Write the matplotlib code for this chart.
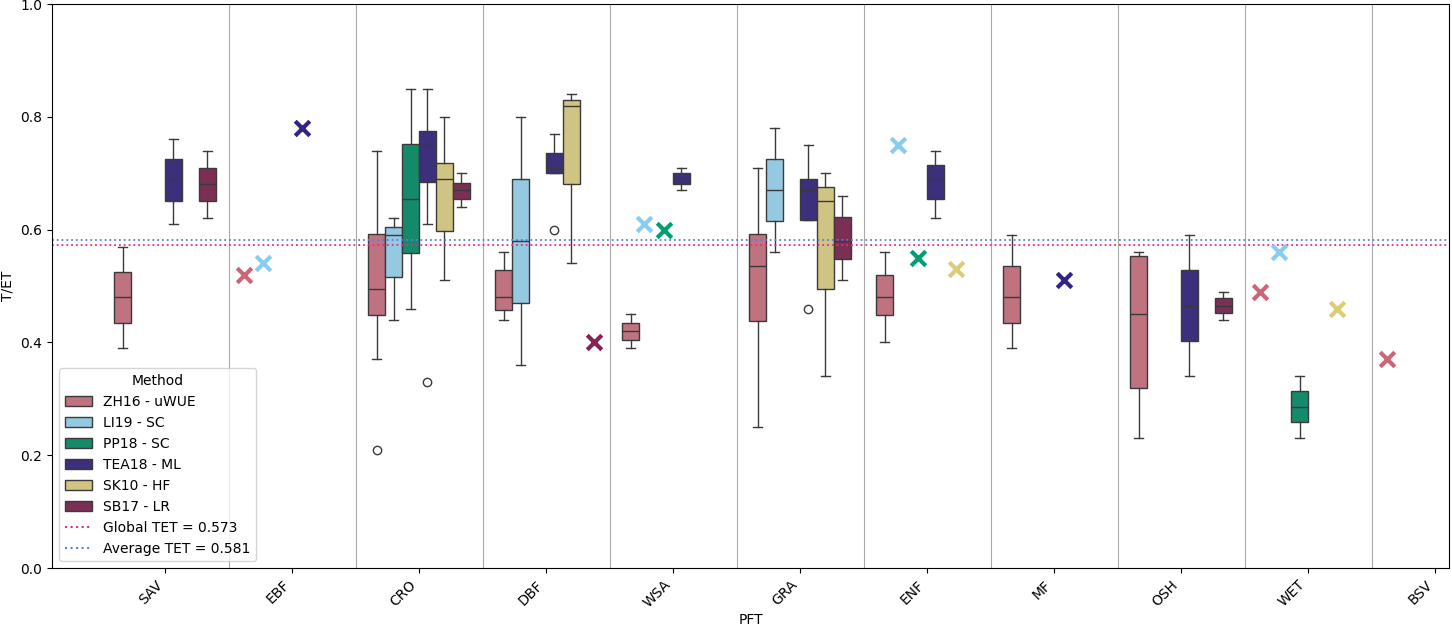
import matplotlib.pyplot as plt
import seaborn as sns
from matplotlib.lines import Line2D
from matplotlib.patches import Patch

pfts = ["SAV", "EBF", "CRO", "DBF", "WSA", "GRA", "ENF", "MF", "OSH", "WET", "BSV"]
methods = ["ZH16 - uWUE", "LI19 - SC", "PP18 - SC", "TEA18 - ML", "SK10 - HF", "SB17 - LR"]
colors = ["#CC6677", "#88CCEE", "#009E73", "#332288", "#DDCC77", "#882255"]

# box stats: (pft, method index, whislo, q1, med, q3, whishi, fliers)
box_stats = [
    ("SAV", 0, 0.39, 0.435, 0.48, 0.525, 0.57, []),
    ("SAV", 3, 0.61, 0.65, 0.69, 0.725, 0.76, []),
    ("SAV", 5, 0.62, 0.65, 0.68, 0.71, 0.74, []),
    ("CRO", 0, 0.37, 0.448, 0.495, 0.592, 0.74, [0.21]),
    ("CRO", 1, 0.44, 0.516, 0.59, 0.605, 0.62, []),
    ("CRO", 2, 0.46, 0.558, 0.655, 0.752, 0.85, []),
    ("CRO", 3, 0.61, 0.685, 0.75, 0.775, 0.85, [0.33]),
    ("CRO", 4, 0.51, 0.598, 0.69, 0.718, 0.80, []),
    ("CRO", 5, 0.64, 0.655, 0.67, 0.683, 0.70, []),
    ("DBF", 0, 0.44, 0.458, 0.48, 0.528, 0.56, []),
    ("DBF", 1, 0.36, 0.47, 0.58, 0.69, 0.80, []),
    ("DBF", 3, 0.70, 0.70, 0.71, 0.735, 0.77, [0.60]),
    ("DBF", 4, 0.54, 0.68, 0.82, 0.83, 0.84, []),
    ("WSA", 0, 0.39, 0.405, 0.42, 0.435, 0.45, []),
    ("WSA", 3, 0.67, 0.68, 0.69, 0.70, 0.71, []),
    ("GRA", 0, 0.25, 0.438, 0.535, 0.592, 0.71, []),
    ("GRA", 1, 0.56, 0.615, 0.67, 0.725, 0.78, []),
    ("GRA", 3, 0.617, 0.617, 0.67, 0.69, 0.75, [0.46]),
    ("GRA", 4, 0.34, 0.495, 0.65, 0.676, 0.70, []),
    ("GRA", 5, 0.51, 0.548, 0.58, 0.622, 0.66, []),
    ("ENF", 0, 0.40, 0.448, 0.48, 0.52, 0.56, []),
    ("ENF", 3, 0.62, 0.655, 0.69, 0.715, 0.74, []),
    ("MF", 0, 0.39, 0.435, 0.48, 0.535, 0.59, []),
    ("OSH", 0, 0.23, 0.32, 0.45, 0.553, 0.56, []),
    ("OSH", 3, 0.34, 0.402, 0.465, 0.528, 0.59, []),
    ("OSH", 5, 0.44, 0.452, 0.465, 0.478, 0.49, []),
    ("WET", 2, 0.23, 0.258, 0.285, 0.313, 0.34, []),
]

# single-site values shown as crosses
single_pft = ["EBF", "EBF", "EBF", "DBF", "WSA", "WSA", "ENF", "ENF", "ENF", "MF", "WET", "WET", "WET", "BSV"]
single_method = [0, 1, 3, 5, 1, 2, 1, 2, 4, 3, 0, 1, 4, 0]
single_value = [0.52, 0.54, 0.78, 0.40, 0.61, 0.60, 0.75, 0.55, 0.53, 0.51, 0.49, 0.56, 0.46, 0.37]

global_tet = 0.573
average_tet = 0.581

fig = plt.figure(figsize=(14.52, 6.26), dpi=100)
ax = fig.add_axes([52 / 1452, 58 / 626, 1397 / 1452, 564 / 626])

box_w = 0.8 / 6
for pft, m, lo, q1, med, q3, hi, fl in box_stats:
    x = pfts.index(pft) - 0.4 + box_w * (m + 0.5)
    stats = [dict(whislo=lo, q1=q1, med=med, q3=q3, whishi=hi, fliers=fl)]
    ax.bxp(stats, positions=[x], widths=box_w, patch_artist=True, showfliers=True,
           boxprops=dict(facecolor=sns.desaturate(colors[m], 0.75), edgecolor="#3a3a3a", linewidth=1),
           medianprops=dict(color="#3a3a3a", linewidth=1),
           whiskerprops=dict(color="#3a3a3a", linewidth=1),
           capprops=dict(color="#3a3a3a", linewidth=1), capwidths=box_w / 2,
           flierprops=dict(marker="o", markerfacecolor="none", markeredgecolor="#3a3a3a", markersize=6))

step = 0.9 / 6
for pft, m, v in zip(single_pft, single_method, single_value):
    x = pfts.index(pft) - 0.45 + step * (m + 0.5)
    ax.scatter(x, v, marker="x", s=110, linewidths=3, color=colors[m], zorder=4)

for i in range(len(pfts) - 1):
    ax.axvline(i + 0.5, color="#aaaaaa", linewidth=0.8, zorder=0)

ax.axhline(global_tet, color="#e7298a", linestyle=":", linewidth=1.3)
ax.axhline(average_tet, color="#5b7fe0", linestyle=":", linewidth=1.3)

ax.set_xlim(-0.89, 10.11)
ax.set_ylim(0, 1)
ax.set_xticks(range(len(pfts)))
ax.set_xticklabels(pfts, rotation=45, ha="right")
ax.set_xlabel("PFT", labelpad=2)
ax.set_ylabel("T/ET")

handles = [Patch(facecolor=sns.desaturate(c, 0.75), edgecolor="#3a3a3a", label=l) for c, l in zip(colors, methods)]
handles += [Line2D([], [], color="#e7298a", linestyle=":", label=f"Global TET = {global_tet}"),
            Line2D([], [], color="#5b7fe0", linestyle=":", label=f"Average TET = {average_tet}")]
ax.legend(handles=handles, title="Method", loc="lower left")

fig.savefig("out.png", dpi=100)
